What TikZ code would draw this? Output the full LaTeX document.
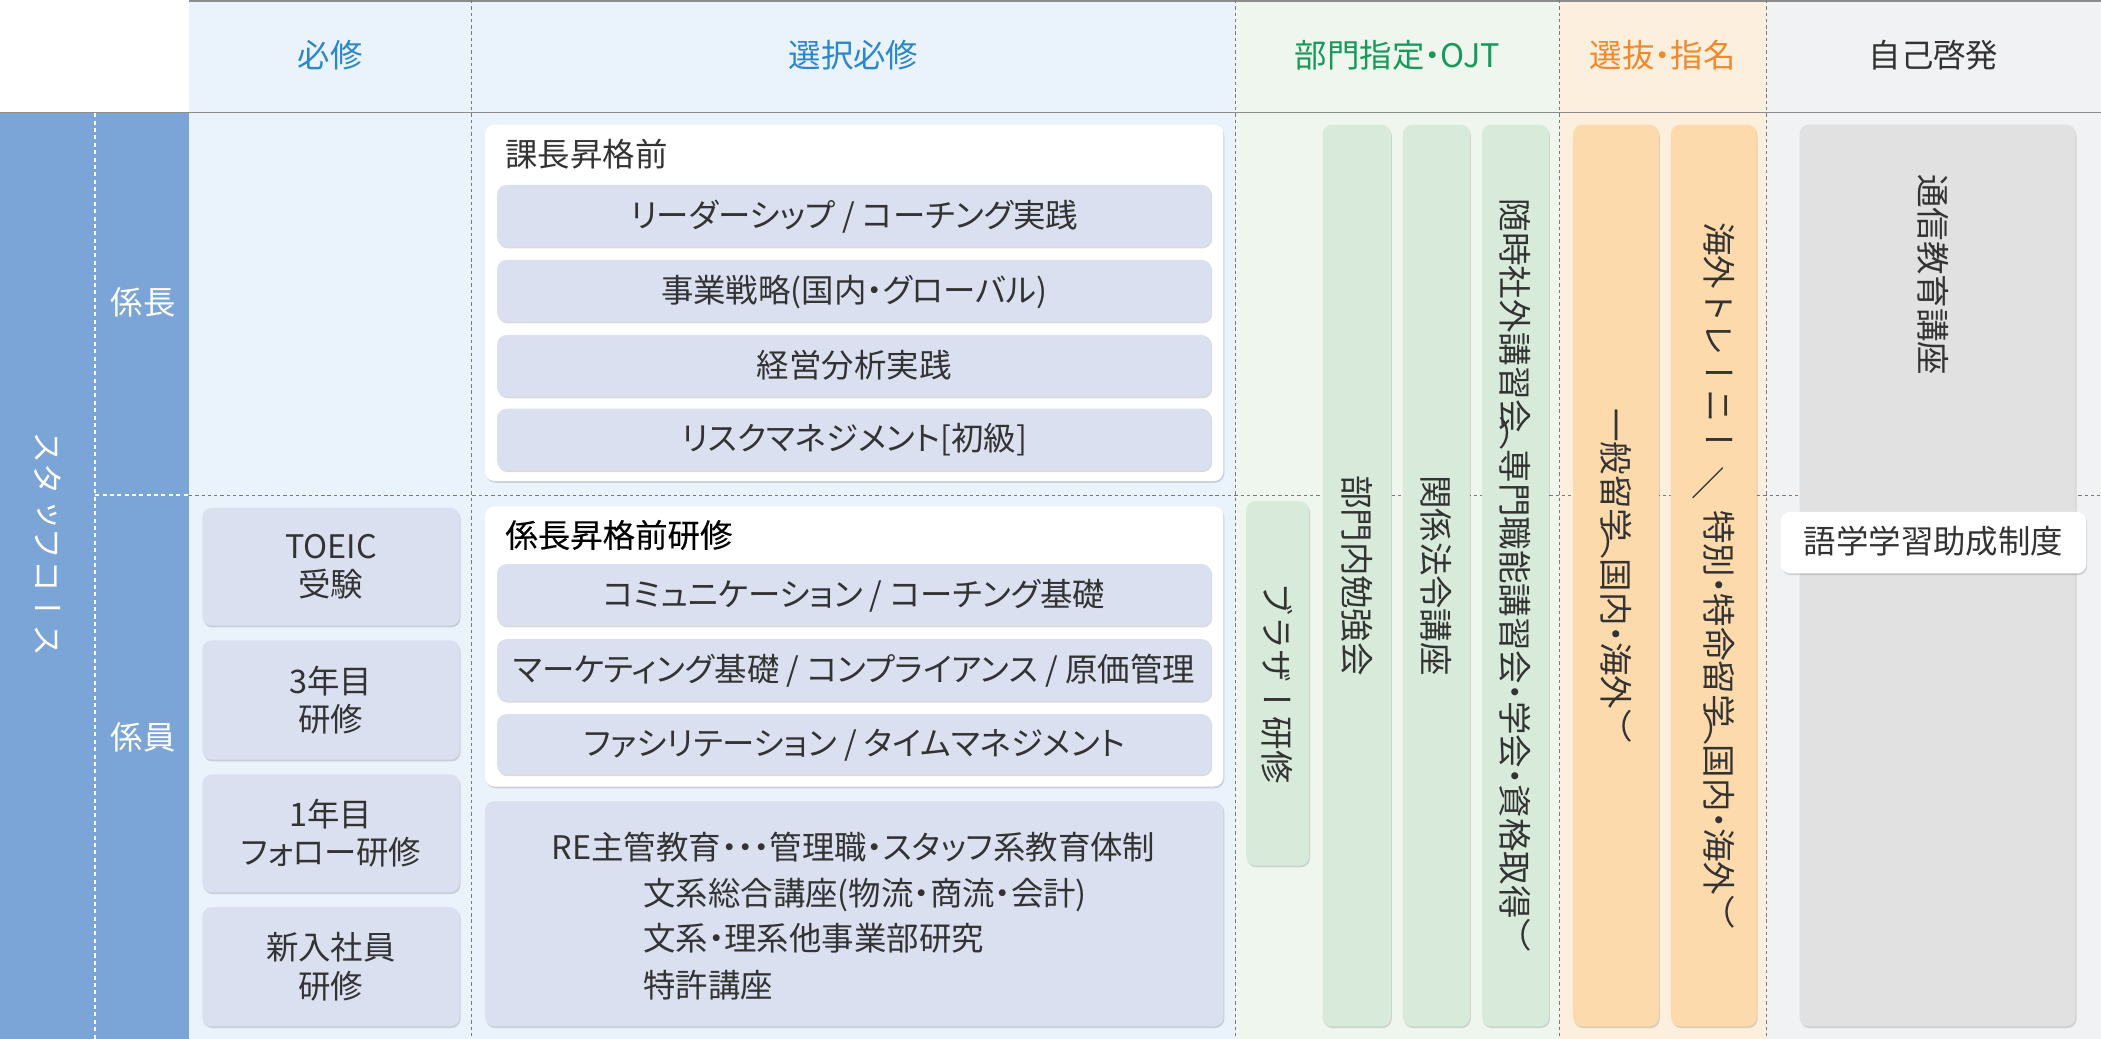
\documentclass[tikz,border=0pt]{standalone}
\usepackage{fontspec}
\setmainfont{Noto Sans CJK JP}[RawFeature=+palt]
\newfontfamily\jpv{Noto Sans CJK JP}[Vertical=RotatedGlyphs]
\newfontfamily\jpb{Noto Sans CJK JP}[RawFeature=+palt,FakeBold=0.12]
\usetikzlibrary{shadows}
\definecolor{leftblue}{HTML}{7AA5D6}
\definecolor{bgblue}{HTML}{EAF2FB}
\definecolor{bggreen}{HTML}{EEF6EE}
\definecolor{bgorange}{HTML}{FDEFDD}
\definecolor{bggray}{HTML}{F1F2F4}
\definecolor{boxblue}{HTML}{DAE0F0}
\definecolor{boxgreen}{HTML}{D8EBDB}
\definecolor{boxorange}{HTML}{FCDAAC}
\definecolor{boxgray}{HTML}{E1E1E1}
\definecolor{hblue}{HTML}{2B87C9}
\definecolor{hgreen}{HTML}{17995A}
\definecolor{horange}{HTML}{EF8A2C}
\definecolor{txt}{HTML}{333333}
\definecolor{rulegray}{HTML}{8C8C8C}
\definecolor{dashgray}{HTML}{7A7A7A}
\newcommand{\flatslash}{\hspace{0.3em}\raisebox{-0.32em}{\rmfamily ＼}\hspace{0.3em}}
\newcommand{\vop}{\hspace{-0.5em}（}
\newcommand{\vcp}{）\hspace{-0.5em}}
\newcommand{\vdt}{\hspace{-0.25em}・\hspace{-0.25em}}
\begin{document}
\begin{tikzpicture}[x=1pt,y=-1pt,
  card/.style={rounded corners=7pt, inner sep=0pt, outer sep=0pt, anchor=north west, draw=none,
    drop shadow={shadow xshift=0.7pt, shadow yshift=-1.3pt, opacity=0.14, fill=black}},
  bluecard/.style={card, fill=boxblue},
  whitecard/.style={card, fill=white},
  greencard/.style={card, fill=boxgreen},
  orangecard/.style={card, fill=boxorange},
  graycard/.style={card, fill=boxgray},
  lbl/.style={font=\fontsize{24.2}{28}\selectfont, text=txt, inner sep=0pt, text height=20.5pt, text depth=3.6pt},
  lbl2/.style={font=\fontsize{24.2}{28.5}\selectfont, text=txt, inner sep=0pt, align=center},
  vlbl/.style={font=\jpv\fontsize{25}{28}\selectfont, text=txt, inner sep=0pt, rotate=-90},
  dashline/.style={dashgray, line width=0.8pt, dash pattern=on 2.5pt off 2.2pt},
  wdash/.style={white, line width=1.2pt, dash pattern=on 3pt off 2.5pt},
]
\useasboundingbox (0,0) rectangle (1568,775.4);
% backgrounds
\fill[white] (0,0) rectangle (1568,775.4);
\fill[bgblue] (141,0) rectangle (922,775.4);
\fill[bggreen] (922,0) rectangle (1164,775.4);
\fill[bgorange] (1164,0) rectangle (1318,775.4);
\fill[bggray] (1318,0) rectangle (1568,775.4);
\fill[leftblue] (0,84) rectangle (141,775.4);
% rules
\draw[rulegray, line width=1.8pt] (141,0.9) -- (1568,0.9);
\draw[rulegray, line width=1.2pt] (0,84) -- (1568,84);
\foreach \xx in {352,922,1164,1318} \draw[dashline] (\xx,0) -- (\xx,775.4);
\draw[dashline] (141,369.5) -- (1568,369.5);
\draw[wdash] (71,84.6) -- (71,775.4);
\draw[wdash] (71,369.5) -- (141,369.5);
% headers
\node[lbl, text=hblue] (h1) at (246.5,42) {必修};
\node[lbl, text=hblue] (h2) at (637,42) {選択必修};
\node[lbl, text=hgreen] (h3) at (1043,42) {部門指定・OJT};
\node[lbl, text=horange] (h4) at (1241,42) {選抜・指名};
\node[lbl, text=txt] (h5) at (1443,42) {自己啓発};
% left column
\node[vlbl, text=white, font=\jpv\fontsize{24}{28}\selectfont] (staff) at (36,406) {スタッフコース};
\node[lbl, text=white] (kc) at (107,226) {係長};
\node[lbl, text=white] (ki) at (107,551) {係員};
% required column
\node[bluecard, minimum width=192pt, minimum height=88pt] (r1) at (151,379) {};
\node[bluecard, minimum width=192pt, minimum height=89pt] (r2) at (151,478) {};
\node[bluecard, minimum width=192pt, minimum height=88pt] (r3) at (151,578) {};
\node[bluecard, minimum width=192pt, minimum height=89pt] (r4) at (151,677) {};
\node[lbl2] (r1t) at (r1.center) {TOEIC\\受験};
\node[lbl2] (r2t) at (r2.center) {3年目\\研修};
\node[lbl2] (r3t) at (r3.center) {1年目\\フォロー研修};
\node[lbl2] (r4t) at (r4.center) {新入社員\\研修};
% elective required column
\node[whitecard, minimum width=551pt, minimum height=266pt] (w1) at (362,93) {};
\node[lbl, anchor=west] (w1t) at (377,116) {課長昇格前};
\node[bluecard, minimum width=533pt, minimum height=46pt] (a1) at (371,138) {};
\node[bluecard, minimum width=533pt, minimum height=46pt] (a2) at (371,194) {};
\node[bluecard, minimum width=533pt, minimum height=46pt] (a3) at (371,250) {};
\node[bluecard, minimum width=533pt, minimum height=46pt] (a4) at (371,305) {};
\node[lbl] (a1t) at (a1.center) {リーダーシップ / コーチング実践};
\node[lbl] (a2t) at (a2.center) {事業戦略(国内・グローバル)};
\node[lbl] (a3t) at (a3.center) {経営分析実践};
\node[lbl] (a4t) at (a4.center) {リスクマネジメント[初級]};
\node[whitecard, minimum width=551pt, minimum height=209pt] (w2) at (362,378) {};
\node[lbl, anchor=west, text=black, font=\jpb\fontsize{24.2}{28}\selectfont] (w2t) at (377,400) {係長昇格前研修};
\node[bluecard, minimum width=533pt, minimum height=46pt] (b1) at (371,421) {};
\node[bluecard, minimum width=533pt, minimum height=46pt] (b2) at (371,477) {};
\node[bluecard, minimum width=533pt, minimum height=45pt] (b3) at (371,533) {};
\node[lbl] (b1t) at (b1.center) {コミュニケーション / コーチング基礎};
\node[lbl] (b2t) at (b2.center) {マーケティング基礎 / コンプライアンス / 原価管理};
\node[lbl] (b3t) at (b3.center) {ファシリテーション / タイムマネジメント};
\node[bluecard, minimum width=551pt, minimum height=168pt] (re) at (362,598) {};
\node[lbl] (re1) at (637,633) {RE主管教育・・・管理職・スタッフ系教育体制};
\node[lbl, anchor=west] (re2) at (480,667) {文系総合講座(物流・商流・会計)};
\node[lbl, anchor=west] (re3) at (480,701) {文系・理系他事業部研究};
\node[lbl, anchor=west] (re4) at (480,736) {特許講座};
% OJT column
\node[greencard, minimum width=47pt, minimum height=272pt] (g0) at (930,374) {};
\node[greencard, minimum width=51pt, minimum height=673pt] (g1) at (987,93) {};
\node[greencard, minimum width=50pt, minimum height=673pt] (g2) at (1047,93) {};
\node[greencard, minimum width=50pt, minimum height=673pt] (g3) at (1106,93) {};
\node[vlbl] (g0t) at (g0.center) {ブラザー研修};
\node[vlbl] (g1t) at (g1.center) {部門内勉強会};
\node[vlbl] (g2t) at (g2.center) {関係法令講座};
\node[vlbl] (g3t) at (g3.center) {随時社外講習会\vop 専門職能講習会\vdt 学会\vdt 資格取得\vcp};
% selection column
\node[orangecard, minimum width=64pt, minimum height=673pt] (o1) at (1174,93) {};
\node[orangecard, minimum width=64pt, minimum height=673pt] (o2) at (1247,93) {};
\node[vlbl] (o1t) at (o1.center) {一般留学\vop 国内\vdt 海外\vcp};
\node[vlbl] (o2t) at (o2.center) {海外トレーニー\flatslash 特別\vdt 特命留学\vop 国内\vdt 海外\vcp};
% self development column
\node[graycard, minimum width=206pt, minimum height=673pt] (s1) at (1343,93) {};
\node[vlbl] (s1t) at (1443,205) {通信教育講座};
\node[whitecard, minimum width=228pt, minimum height=46pt] (s2) at (1329,382) {};
\node[lbl] (s2t) at (s2.center) {語学学習助成制度};
\end{tikzpicture}
\end{document}
